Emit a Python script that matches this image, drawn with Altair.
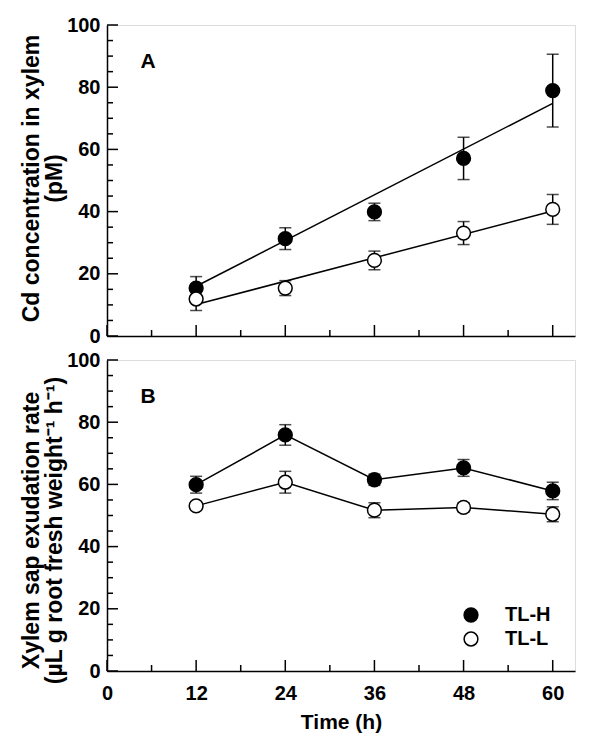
import altair as alt
import pandas as pd

# ---------------- data ----------------
times = [12, 24, 36, 48, 60]
series = ["TL-H", "TL-L"]

cd_h = [15.4, 31.3, 39.9, 57.1, 78.9]
cd_h_err = [3.7, 3.5, 2.8, 6.8, 11.7]
cd_l = [11.9, 15.4, 24.3, 33.1, 40.7]
cd_l_err = [3.7, 2.4, 3.0, 3.7, 4.8]

fit_times = [12, 60]
fit_h = [16.0, 74.8]
fit_l = [10.1, 40.2]

sap_h = [59.9, 75.9, 61.5, 65.3, 57.9]
sap_h_err = [2.7, 3.3, 1.8, 2.7, 2.8]
sap_l = [53.1, 60.7, 51.7, 52.6, 50.4]
sap_l_err = [1.2, 3.5, 2.4, 1.5, 2.4]

x_major = [0, 12, 24, 36, 48, 60]
x_minor = [6, 18, 30, 42, 54]
y_major = [0, 20, 40, 60, 80, 100]
y_minor = [5, 10, 15, 25, 30, 35, 45, 50, 55, 65, 70, 75, 85, 90, 95]

FONT = "Liberation Sans"
W, H = 468, 311


def point_frame(h, he, l, le):
    rows = []
    for s, vals, errs in (("TL-H", h, he), ("TL-L", l, le)):
        for t, v, e in zip(times, vals, errs):
            rows.append({"t": t, "v": v, "lo": v - e, "hi": v + e, "s": s})
    return pd.DataFrame(rows)


def line_frame(xs, h, l):
    rows = []
    for s, vals in (("TL-H", h), ("TL-L", l)):
        for t, v in zip(xs, vals):
            rows.append({"t": t, "v": v, "s": s})
    return pd.DataFrame(rows)


pts_a = point_frame(cd_h, cd_h_err, cd_l, cd_l_err)
pts_b = point_frame(sap_h, sap_h_err, sap_l, sap_l_err)
lines_a = line_frame(fit_times, fit_h, fit_l)
lines_b = line_frame(times, sap_h, sap_l)


def panel(pts, lines, ytitle, title_y, letter, bottom, legend):
    xs = alt.Scale(domain=[0, 63], nice=False, zero=False)
    ys = alt.Scale(domain=[0, 100], nice=False)

    xaxis_kw = dict(values=x_major, ticks=False, tickSize=0, grid=False,
                    domainColor="black", domainWidth=1.5,
                    labelFont=FONT, labelFontSize=20, labelFontWeight="bold",
                    labelColor="black", labelFlush=False, labelPadding=12,
                    titleFont=FONT, titleFontSize=21, titleFontWeight="bold",
                    titleColor="black", titlePadding=8)
    if bottom:
        xaxis = alt.Axis(title="Time (h)", labels=True, **xaxis_kw)
    else:
        xaxis = alt.Axis(title=None, labels=False, **xaxis_kw)

    yaxis = alt.Axis(values=y_major, ticks=False, tickSize=0, grid=False,
                     domainColor="black", domainWidth=1.5,
                     labelFont=FONT, labelFontSize=20, labelFontWeight="bold",
                     labelColor="black", labelPadding=7,
                     title=ytitle, titleFont=FONT, titleFontSize=23,
                     titleFontWeight="bold", titleColor="black",
                     titlePadding=0, titleY=title_y, titleLineHeight=23)

    def X(f):
        return alt.X(f, scale=xs, axis=xaxis)

    def Y(f):
        return alt.Y(f, scale=ys, axis=yaxis)

    line = alt.Chart(lines).mark_line(color="black", strokeWidth=1.5).encode(
        x=X("t:Q"), y=Y("v:Q"), detail="s:N",
    )

    err = alt.Chart(pts).mark_errorbar(ticks={"size": 12}, thickness=1.5,
                                       color="black").encode(
        x=X("t:Q"), y=Y("lo:Q"), y2="hi:Q",
    )

    if legend:
        leg = alt.Legend(title=None, orient="none", legendX=354, legendY=245,
                         labelFont=FONT, labelFontSize=20,
                         labelFontWeight="bold", labelColor="black",
                         symbolType="circle", symbolSize=190,
                         symbolStrokeColor="black", symbolStrokeWidth=1.5,
                         labelOffset=24, rowPadding=4)
    else:
        leg = None

    dots = alt.Chart(pts).mark_point(filled=True, shape="circle", size=190,
                                     stroke="black", strokeWidth=1.5,
                                     opacity=1).encode(
        x=X("t:Q"), y=Y("v:Q"),
        fill=alt.Fill("s:N", scale=alt.Scale(domain=series,
                                             range=["black", "white"]),
                      legend=leg),
    )

    ytick_min = alt.Chart(pd.DataFrame({"v": y_minor})).mark_rule(
        color="black", strokeWidth=1.5).encode(
        y=Y("v:Q"), x=alt.value(0), x2=alt.value(6))
    ytick_maj = alt.Chart(pd.DataFrame({"v": y_major})).mark_rule(
        color="black", strokeWidth=1.5).encode(
        y=Y("v:Q"), x=alt.value(0), x2=alt.value(11))
    xtick_min = alt.Chart(pd.DataFrame({"t": x_minor})).mark_rule(
        color="black", strokeWidth=1.5).encode(
        x=X("t:Q"), y=alt.value(H), y2=alt.value(H - 6))
    xtick_maj = alt.Chart(pd.DataFrame({"t": x_major})).mark_rule(
        color="black", strokeWidth=1.5).encode(
        x=X("t:Q"), y=alt.value(H), y2=alt.value(H - 11))

    label = alt.Chart(pd.DataFrame({"txt": [letter]})).mark_text(
        font=FONT, fontSize=21, fontWeight="bold", color="black",
        align="center", baseline="middle").encode(
        text="txt:N", x=alt.value(41), y=alt.value(37))

    return alt.layer(ytick_min, ytick_maj, xtick_min, xtick_maj,
                     line, err, dots, label).properties(width=W, height=H)


panel_a = panel(pts_a, lines_a, ["Cd concentration in xylem", "(pM)"],
                153, "A", False, False)
panel_b = panel(pts_b, lines_b,
                ["Xylem sap exudation rate",
                 "(µL g root fresh weight\u207b\u00b9 h\u207b\u00b9)"],
                170, "B", True, True)

chart = alt.vconcat(panel_a, panel_b, spacing=24, bounds="flush").resolve_scale(
    fill="independent").resolve_legend(fill="independent").properties(
    padding={"left": 12, "top": 6, "right": 5, "bottom": 3}).configure_view(
    stroke="black", strokeWidth=1.5).configure(background="white")

chart.save("out.html", embed_options={"renderer": "svg", "actions": False})
